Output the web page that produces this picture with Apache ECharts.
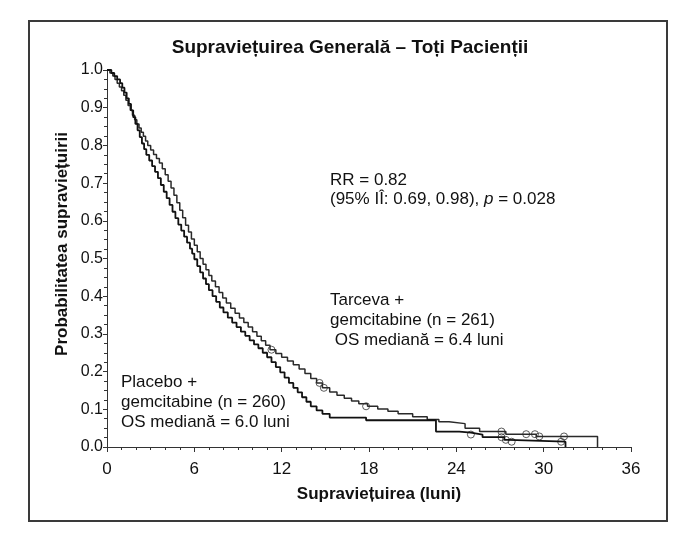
<!DOCTYPE html>
<html>
<head>
<meta charset="utf-8">
<script src="https://cdn.jsdelivr.net/npm/echarts@6/dist/echarts.min.js"></script>
<style>
html,body{margin:0;padding:0;background:#fff;}
#c{width:685px;height:541px;}
</style>
</head>
<body>
<div id="c"></div>
<script>
// ---- Data ----
const xTicks = [0, 6, 12, 18, 24, 30, 36];
const yTicks = [0.0, 0.1, 0.2, 0.3, 0.4, 0.5, 0.6, 0.7, 0.8, 0.9, 1.0];

// Tarceva + gemcitabine : step times (months) and survival after step
const tarcevaTime = [0,0.2,0.4,0.55,0.7,0.85,1.0,1.15,1.3,1.45,1.6,1.75,1.9,2.05,2.2,2.35,2.5,2.65,2.8,3.0,3.2,3.4,3.6,3.8,4.0,4.2,4.4,4.6,4.8,5.0,5.2,5.4,5.6,5.8,6.0,6.2,6.4,6.6,6.8,7.0,7.2,7.45,7.7,7.95,8.2,8.5,8.8,9.1,9.4,9.7,10.0,10.3,10.6,10.9,11.2,11.6,12.0,12.4,12.8,13.2,13.6,14.0,14.4,14.8,15.3,15.8,16.3,16.8,17.3,17.9,18.6,19.3,20.0,21.0,22.0,22.8,23.5,24.6,25.6,27.4,29.5,33.7];
const tarcevaSurv = [1.0,0.992,0.984,0.975,0.965,0.955,0.945,0.933,0.92,0.906,0.893,0.88,0.868,0.857,0.846,0.835,0.824,0.812,0.80,0.788,0.776,0.765,0.753,0.738,0.722,0.705,0.687,0.668,0.648,0.628,0.608,0.588,0.57,0.552,0.535,0.518,0.50,0.485,0.47,0.455,0.44,0.425,0.41,0.395,0.382,0.368,0.355,0.342,0.33,0.318,0.306,0.294,0.282,0.27,0.258,0.248,0.238,0.228,0.218,0.207,0.195,0.182,0.17,0.157,0.146,0.137,0.129,0.122,0.115,0.108,0.101,0.095,0.088,0.08,0.073,0.067,0.062,0.05,0.041,0.034,0.028,0.0];
const tarcevaCensorTime = [11.3,14.6,14.9,17.8,27.1,28.8,29.4,29.7,31.4];
const tarcevaCensorSurv = [0.258,0.17,0.157,0.108,0.041,0.034,0.034,0.028,0.028];

// Placebo + gemcitabine
const placeboTime = [0,0.3,0.5,0.7,0.9,1.05,1.2,1.35,1.5,1.65,1.8,1.95,2.1,2.25,2.4,2.55,2.7,2.9,3.1,3.3,3.5,3.7,3.9,4.1,4.3,4.5,4.7,4.9,5.1,5.3,5.5,5.7,5.85,6.0,6.2,6.4,6.6,6.8,7.0,7.25,7.5,7.75,8.0,8.3,8.6,8.9,9.2,9.5,9.8,10.1,10.4,10.7,11.0,11.3,11.6,11.9,12.2,12.5,12.8,13.1,13.4,13.7,14.0,14.4,14.8,15.3,17.8,22.6,24.2,25.0,25.8,27.3,27.6,31.5];
const placeboSurv = [1.0,0.992,0.984,0.975,0.965,0.953,0.94,0.925,0.91,0.893,0.875,0.857,0.84,0.822,0.805,0.79,0.775,0.76,0.745,0.73,0.713,0.695,0.677,0.66,0.642,0.624,0.607,0.59,0.574,0.558,0.542,0.526,0.513,0.498,0.48,0.463,0.447,0.432,0.416,0.40,0.385,0.37,0.357,0.343,0.33,0.318,0.306,0.295,0.283,0.272,0.262,0.25,0.238,0.225,0.212,0.198,0.184,0.17,0.157,0.145,0.132,0.12,0.108,0.097,0.088,0.078,0.071,0.041,0.038,0.033,0.026,0.019,0.014,0.0];
const placeboCensorTime = [25.0,27.1,27.4,27.8,31.2];
const placeboCensorSurv = [0.033,0.026,0.019,0.014,0.014];

// ---- Build ----
const zip = (a, b) => a.map((v, i) => [v, b[i]]);
const chart = echarts.init(document.getElementById('c'));
const FONT = '"Liberation Sans", Arial, sans-serif';

chart.setOption({
  animation: false,
  backgroundColor: '#fff',
  grid: { left: 107, top: 70, width: 524, height: 377, containLabel: false },
  xAxis: {
    type: 'value', min: xTicks[0], max: xTicks[xTicks.length - 1], interval: 6,
    axisLine: { show: true, lineStyle: { color: '#333', width: 1 } },
    axisTick: { show: true, length: 5, lineStyle: { color: '#333' } },
    minorTick: { show: true, splitNumber: 6, length: 3, lineStyle: { color: '#333' } },
    splitLine: { show: false },
    axisLabel: { color: '#111', fontSize: 17, fontFamily: FONT, margin: 14 }
  },
  yAxis: {
    type: 'value', min: yTicks[0], max: yTicks[yTicks.length - 1], interval: 0.1,
    axisLine: { show: true, lineStyle: { color: '#333', width: 1 } },
    axisTick: { show: true, length: 4, lineStyle: { color: '#333' } },
    minorTick: { show: true, splitNumber: 4, length: 3, lineStyle: { color: '#333' } },
    splitLine: { show: false },
    axisLabel: { color: '#111', fontSize: 16, fontFamily: FONT, margin: 4,
      formatter: v => v.toFixed(1) }
  },
  series: [
    { type: 'line', name: 'Tarceva', step: 'end', data: zip(tarcevaTime, tarcevaSurv),
      showSymbol: false, symbol: 'none', lineStyle: { color: '#2a2a2a', width: 1.5 } },
    { type: 'line', name: 'Placebo', step: 'end', data: zip(placeboTime, placeboSurv),
      showSymbol: false, symbol: 'none', lineStyle: { color: '#111', width: 1.8 } },
    { type: 'scatter', data: zip(tarcevaCensorTime, tarcevaCensorSurv), symbol: 'circle', symbolSize: 7,
      itemStyle: { color: 'rgba(255,255,255,0)', borderColor: '#333', borderWidth: 1 } },
    { type: 'scatter', data: zip(placeboCensorTime, placeboCensorSurv), symbol: 'circle', symbolSize: 7,
      itemStyle: { color: 'rgba(255,255,255,0)', borderColor: '#333', borderWidth: 1 } }
  ],
  graphic: [
    { type: 'rect', shape: { x: 29, y: 21, width: 638, height: 500 },
      style: { fill: 'none', stroke: '#3a3a3a', lineWidth: 2 }, z: 0 },
    { type: 'text', x: 350, y: 48, style: { text: 'Supraviețuirea Generală – Toți Pacienții',
      font: 'bold 19px ' + FONT, fill: '#111', align: 'center', verticalAlign: 'middle' } },
    { type: 'text', x: 379, y: 494, style: { text: 'Supraviețuirea (luni)',
      font: 'bold 17px ' + FONT, fill: '#111', align: 'center', verticalAlign: 'middle' } },
    { type: 'text', x: 62, y: 244, rotation: Math.PI / 2, style: { text: 'Probabilitatea supraviețuirii',
      font: 'bold 17px ' + FONT, fill: '#111', align: 'center', verticalAlign: 'middle' } },
    { type: 'text', x: 330, y: 171, style: {
      text: 'RR = 0.82\n(95% IÎ: 0.69, 0.98), {i|p} = 0.028',
      font: '17px ' + FONT, fill: '#111', lineHeight: 19,
      rich: { i: { fontStyle: 'italic', fontSize: 17, fontFamily: FONT, fill: '#111' } } } },
    { type: 'text', x: 330, y: 290, style: {
      text: 'Tarceva +\ngemcitabine (n = 261)\n OS mediană = 6.4 luni',
      font: '17px ' + FONT, fill: '#111', lineHeight: 20 } },
    { type: 'text', x: 121, y: 372, style: {
      text: 'Placebo +\ngemcitabine (n = 260)\nOS mediană = 6.0 luni',
      font: '17px ' + FONT, fill: '#111', lineHeight: 20 } }
  ]
});
</script>
</body>
</html>
